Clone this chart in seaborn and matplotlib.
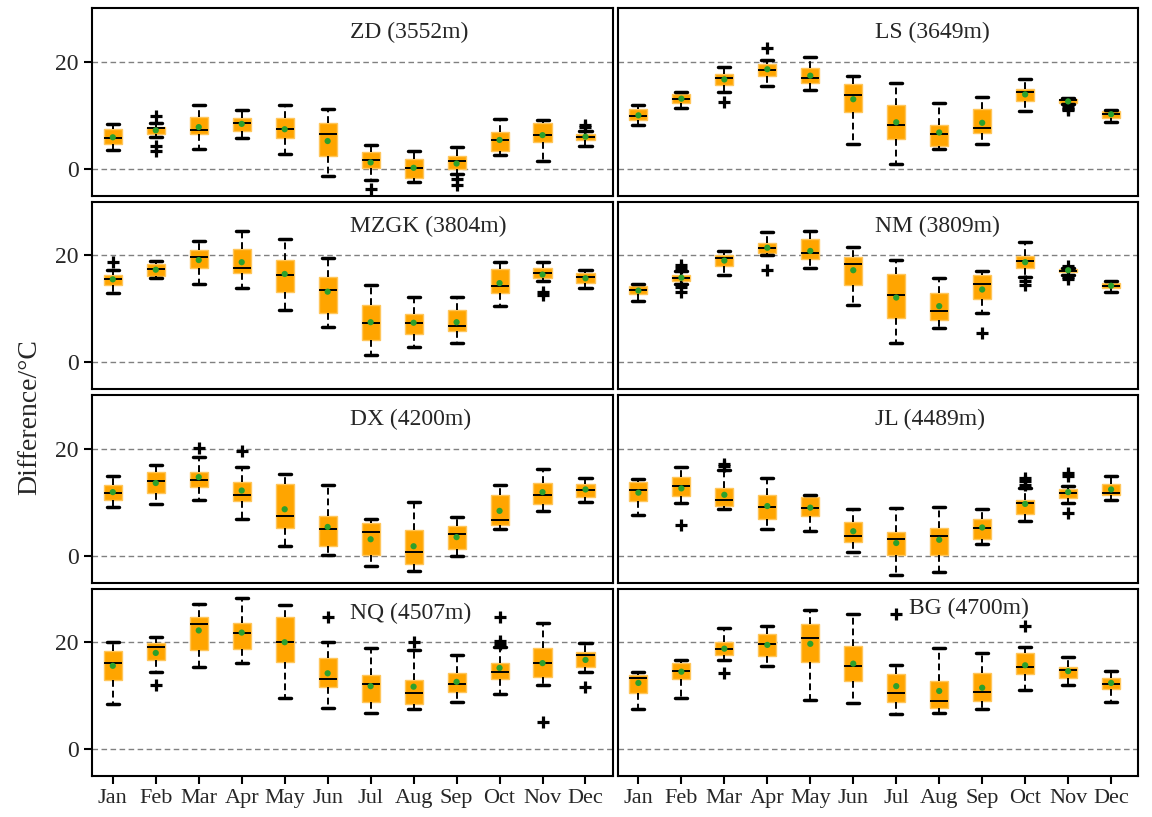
import matplotlib
matplotlib.use("Agg")
import matplotlib.pyplot as plt
import seaborn as sns

# Month labels and station titles
MONTHS = ["Jan", "Feb", "Mar", "Apr", "May", "Jun",
          "Jul", "Aug", "Sep", "Oct", "Nov", "Dec"]
TITLES = ["ZD (3552m)", "LS (3649m)", "MZGK (3804m)", "NM (3809m)",
          "DX (4200m)", "JL (4489m)", "NQ (4507m)", "BG (4700m)"]

# per month: (whisker low, q1, median, q3, whisker high, mean)
ZD = [(3.5, 4.6, 5.8, 7.5, 8.3, 5.9), (6.0, 6.6, 7.7, 7.9, 8.5, 7.2),
      (3.8, 6.6, 7.2, 9.7, 12.0, 7.8), (5.8, 7.0, 8.5, 9.5, 11.0, 8.4),
      (2.8, 5.8, 7.4, 9.5, 11.9, 7.4), (-1.4, 2.4, 6.6, 8.6, 11.2, 5.2),
      (-2.0, 0.1, 1.6, 3.1, 4.5, 1.2), (-2.4, -1.7, 0.2, 1.8, 3.4, 0.2),
      (-0.9, 0.0, 1.4, 2.4, 4.1, 1.0), (2.5, 3.4, 5.3, 6.9, 9.4, 5.4),
      (1.4, 5.1, 6.3, 8.5, 9.2, 6.3), (4.3, 5.3, 6.0, 6.5, 7.1, 6.0)]
ZD_FLIERS = {1: [9.8, 4.2, 3.4], 6: [-3.7], 8: [-1.8, -3.1], 11: [7.8, 8.1]}

LS = [(8.2, 9.2, 9.9, 11.1, 11.9, 10.0), (11.4, 12.3, 13.1, 14.0, 14.3, 13.1),
      (14.4, 15.6, 17.0, 17.8, 19.1, 16.7), (15.5, 17.4, 18.4, 19.6, 20.3, 18.6),
      (14.8, 16.1, 17.0, 18.9, 20.8, 17.4), (4.6, 10.6, 13.8, 15.8, 17.4, 13.0),
      (0.9, 5.6, 8.2, 11.9, 16.0, 8.7), (3.8, 4.2, 6.6, 8.2, 12.3, 6.8),
      (4.6, 6.7, 7.7, 11.1, 13.5, 8.6), (10.8, 12.6, 14.3, 15.0, 16.7, 13.9),
      (12.1, 12.3, 12.8, 13.0, 13.3, 12.6), (8.7, 9.5, 10.2, 10.8, 11.0, 10.2)]
LS_FLIERS = {2: [12.4], 3: [22.5], 10: [11.6, 11.1, 10.9]}

MZGK = [(12.9, 14.5, 15.6, 16.3, 17.3, 15.5), (15.7, 16.2, 17.4, 18.3, 18.9, 17.3),
        (14.6, 17.6, 19.6, 20.9, 22.6, 19.1), (13.8, 16.7, 17.7, 21.1, 24.5, 18.7),
        (9.8, 13.2, 16.4, 19.1, 23.0, 16.5), (6.6, 9.3, 13.6, 16.0, 19.5, 13.2),
        (1.4, 4.2, 7.3, 10.7, 14.5, 7.5), (2.8, 5.3, 7.4, 9.1, 12.2, 7.4),
        (3.7, 5.8, 6.8, 9.7, 12.2, 7.5), (10.5, 12.9, 14.3, 17.5, 18.7, 14.8),
        (15.1, 15.8, 16.6, 17.7, 18.7, 16.4), (13.9, 14.8, 16.0, 16.6, 17.2, 15.7)]
MZGK_FLIERS = {0: [18.7], 10: [13.1, 12.6]}

NM = [(11.4, 12.7, 13.6, 14.2, 14.6, 13.4), (14.6, 15.1, 15.8, 16.4, 17.0, 15.8),
      (16.3, 17.9, 19.4, 20.0, 20.8, 19.0), (20.0, 20.4, 21.4, 22.3, 24.4, 21.4),
      (17.6, 19.3, 20.4, 23.1, 24.5, 20.8), (10.8, 14.5, 18.3, 19.7, 21.5, 17.2),
      (3.6, 8.3, 12.6, 16.5, 19.2, 12.1), (6.4, 7.9, 9.5, 13.0, 15.8, 10.5),
      (9.2, 11.8, 14.7, 16.4, 17.0, 13.6), (16.0, 17.7, 18.9, 19.9, 22.5, 18.7),
      (16.4, 16.8, 17.1, 17.4, 17.7, 17.2), (13.2, 13.9, 14.3, 14.8, 15.1, 14.3)]
NM_FLIERS = {1: [18.1, 17.6, 14.0, 13.2], 3: [17.3], 8: [5.5],
             9: [15.2, 14.5], 10: [18.0, 15.9, 15.6]}

DX = [(9.1, 10.5, 11.8, 13.2, 15.0, 11.9), (9.7, 11.8, 14.0, 15.7, 16.9, 13.6),
      (10.4, 12.9, 14.2, 15.7, 18.5, 14.7), (6.8, 10.3, 11.4, 13.8, 16.6, 12.2),
      (1.8, 5.2, 7.4, 13.5, 15.3, 8.7), (0.1, 1.9, 5.1, 7.5, 13.3, 5.4),
      (-1.9, 0.1, 4.4, 6.1, 6.8, 3.1), (-2.8, -1.5, 0.7, 4.8, 10.1, 1.8),
      (-0.1, 1.2, 4.0, 5.6, 7.2, 3.5), (5.0, 5.8, 6.7, 11.3, 13.3, 8.4),
      (8.4, 9.7, 11.3, 13.6, 16.2, 11.9), (10.1, 10.9, 12.3, 13.5, 14.6, 12.4)]
DX_FLIERS = {2: [20.1], 3: [19.5]}

JL = [(7.6, 10.2, 12.3, 13.8, 14.4, 11.8), (9.8, 11.2, 13.0, 14.8, 16.5, 12.6),
      (8.8, 9.3, 10.4, 12.6, 16.0, 11.4), (5.1, 6.9, 9.1, 11.3, 14.5, 9.3),
      (4.7, 7.5, 9.0, 11.0, 11.4, 9.0), (0.8, 2.6, 3.8, 6.4, 8.7, 4.6),
      (-3.6, 0.1, 3.1, 4.4, 8.9, 2.4), (-3.0, 0.1, 3.8, 5.2, 9.1, 3.0),
      (2.2, 3.1, 5.2, 6.9, 8.8, 5.3), (6.6, 7.9, 9.8, 10.4, 12.6, 9.7),
      (9.8, 10.8, 11.7, 12.5, 13.1, 11.9), (10.4, 11.3, 11.8, 13.5, 14.9, 12.4)]
JL_FLIERS = {1: [5.8], 2: [16.8, 17.1], 9: [14.6, 13.9, 13.2],
             10: [15.4, 14.9, 8.0]}

NQ = [(8.4, 12.9, 16.1, 18.4, 20.1, 15.6), (14.4, 16.6, 19.1, 19.8, 20.9, 18.0),
      (15.3, 18.5, 23.4, 24.8, 27.1, 22.2), (16.1, 18.7, 21.8, 23.6, 28.2, 21.8),
      (9.6, 16.3, 20.0, 24.8, 27.0, 20.0), (7.8, 11.7, 13.1, 17.0, 20.1, 14.2),
      (6.7, 8.9, 12.2, 13.8, 19.0, 11.8), (7.5, 8.5, 10.6, 12.9, 18.5, 11.7),
      (8.8, 10.8, 12.2, 14.2, 17.6, 12.6), (10.3, 13.1, 14.4, 16.2, 19.1, 15.2),
      (12.1, 13.5, 16.2, 18.9, 23.5, 16.1), (14.4, 15.3, 17.6, 18.1, 19.8, 16.7)]
NQ_FLIERS = {1: [12.0], 5: [24.7], 7: [20.0], 9: [24.8, 20.3, 19.7],
             10: [5.2], 11: [11.7]}

BG = [(7.6, 10.5, 13.3, 13.9, 14.4, 12.4), (9.5, 13.1, 14.7, 16.2, 16.6, 14.5),
      (16.7, 17.6, 18.8, 20.0, 22.7, 18.8), (15.6, 17.4, 19.7, 21.5, 23.0, 19.5),
      (9.2, 16.4, 20.7, 23.4, 26.1, 19.7), (8.6, 12.8, 15.5, 19.3, 25.2, 16.0),
      (6.6, 8.9, 10.5, 14.0, 15.8, 11.8), (6.8, 7.8, 9.0, 12.8, 19.0, 10.9),
      (7.5, 9.0, 10.8, 14.3, 18.0, 11.5), (11.1, 14.1, 15.3, 17.9, 19.1, 15.7),
      (12.1, 13.4, 14.9, 15.4, 17.3, 14.6), (8.8, 11.2, 12.2, 13.3, 14.7, 12.4)]
BG_FLIERS = {2: [14.2], 6: [25.2], 9: [23.1]}

PANELS = [(ZD, ZD_FLIERS), (LS, LS_FLIERS), (MZGK, MZGK_FLIERS), (NM, NM_FLIERS),
          (DX, DX_FLIERS), (JL, JL_FLIERS), (NQ, NQ_FLIERS), (BG, BG_FLIERS)]

sns.set_theme(style="ticks")
plt.rcParams["font.family"] = ["Liberation Serif", "DejaVu Serif"]

fig, axes = plt.subplots(4, 2, figsize=(11.52, 8.17), dpi=100,
                         sharex=True, sharey=True)
fig.subplots_adjust(left=0.08, right=0.988, top=0.99, bottom=0.05,
                    wspace=0.01, hspace=0.032)

pos = list(range(12))
for i, (ax, (rows, fl)) in enumerate(zip(axes.flat, PANELS)):
    stats = []
    for m, (lo, q1, med, q3, hi, mean) in enumerate(rows):
        stats.append(dict(whislo=lo, q1=q1, med=med, q3=q3, whishi=hi,
                          fliers=fl.get(m, []), label=MONTHS[m]))
    ax.bxp(stats, positions=pos, widths=0.42, capwidths=0.28,
           patch_artist=True, manage_ticks=False,
           boxprops=dict(facecolor="#FFA500", edgecolor="#FFC65A", lw=1),
           medianprops=dict(color="black", lw=1.4),
           whiskerprops=dict(color="black", lw=1.4, ls=(0, (3.5, 2))),
           capprops=dict(color="black", lw=2.5),
           flierprops=dict(marker="+", markersize=8, mew=2.3,
                           markeredgecolor="black"))
    sns.scatterplot(x=pos, y=[r[5] for r in rows], ax=ax, color="#2ca02c",
                    s=20, edgecolor="none", zorder=5)

    for yv in (0, 20):
        ax.axhline(yv, color="gray", lw=1, ls=(0, (4, 2.5)), zorder=0)
    ax.set_ylim(-5, 30)
    ax.set_xlim(-0.48, 11.63)
    ax.set_yticks([0, 20])
    ax.set_xticks(pos)
    ax.set_xticklabels(MONTHS)
    for s in ax.spines.values():
        s.set_linewidth(1.5)
        s.set_color("black")
    ax.tick_params(axis="x", labelsize=16, width=1.5, length=6, color="black")
    ax.tick_params(axis="y", labelsize=17, width=1.5, length=6, color="black")
    if i % 2 == 1:
        ax.tick_params(axis="y", left=False)
    if i < 6:
        ax.tick_params(axis="x", bottom=False)

    if TITLES[i].startswith("BG"):
        ax.text(0.56, 0.895, TITLES[i], transform=ax.transAxes,
                ha="left", va="center", fontsize=17)
    else:
        ax.text(0.495, 0.87, TITLES[i], transform=ax.transAxes,
                ha="left", va="center", fontsize=17)

fig.text(0.026, 0.49, "Difference/°C", rotation=90, ha="center",
         va="center", fontsize=20)

fig.savefig("out.png", dpi=100)
